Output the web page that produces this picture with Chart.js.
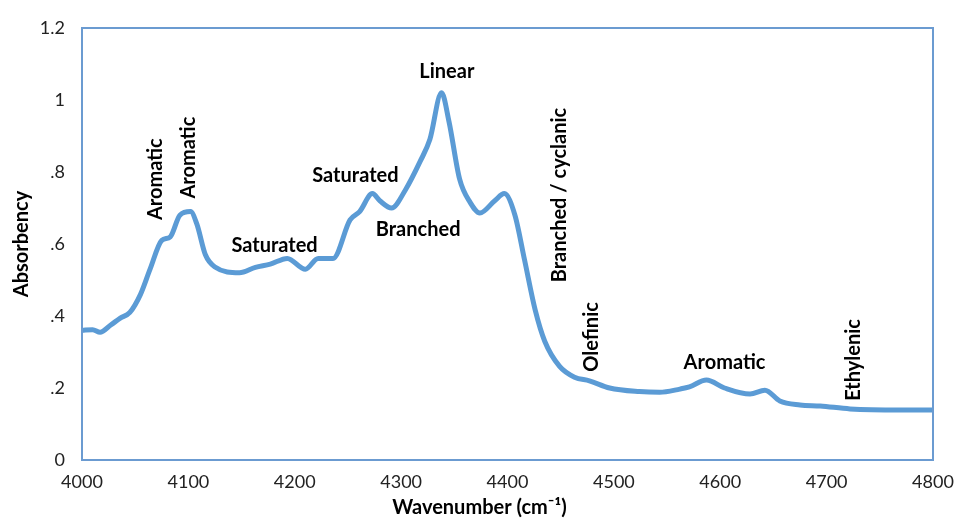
<!DOCTYPE html>
<html>
<head>
<meta charset="utf-8">
<script src="https://cdn.jsdelivr.net/npm/chart.js@4/dist/chart.umd.min.js"></script>
<style>
  html, body { margin: 0; padding: 0; background: #fff; }
</style>
</head>
<body>
<canvas id="myChart" width="964" height="521"></canvas>
<script>
// spectrum
const wavenumbers = [4000, 4010, 4017, 4027, 4036, 4045, 4055, 4064, 4075, 4083, 4092, 4102, 4108, 4116, 4125,
  4148, 4163, 4177, 4193, 4210, 4222, 4236, 4252, 4261, 4273, 4280, 4291, 4304, 4318, 4327, 4338,
  4345, 4355, 4365, 4374, 4388, 4397, 4407, 4416, 4426, 4435, 4449, 4463, 4477, 4496, 4524, 4543,
  4562, 4571, 4587, 4604, 4628, 4642, 4656, 4675, 4694, 4722, 4769, 4800];
const absorbency = [0.36, 0.362, 0.355, 0.375, 0.394, 0.41, 0.46, 0.53, 0.61, 0.62, 0.68, 0.69, 0.655, 0.57, 0.536,
  0.52, 0.535, 0.544, 0.56, 0.53, 0.56, 0.56, 0.667, 0.69, 0.74, 0.72, 0.70, 0.75, 0.83, 0.89, 1.02,
  0.94, 0.78, 0.715, 0.686, 0.72, 0.74, 0.68, 0.556, 0.417, 0.33, 0.26, 0.23, 0.22, 0.2, 0.19, 0.188,
  0.197, 0.203, 0.222, 0.2, 0.183, 0.194, 0.164, 0.153, 0.15, 0.142, 0.139, 0.139];

const xTicks = [4000, 4100, 4200, 4300, 4400, 4500, 4600, 4700, 4800];

// band labels: text, wavenumber, absorbency, rotated?
const bandText = ['Aromatic', 'Aromatic', 'Saturated', 'Saturated', 'Branched', 'Linear',
  'Branched / cyclanic', 'Olefinic', 'Aromatic', 'Ethylenic'];
const bandX = [4069, 4100, 4181, 4257, 4316, 4343, 4449, 4479, 4604, 4725];
const bandY = [0.78, 0.84, 0.597, 0.79, 0.64, 1.08, 0.736, 0.342, 0.272, 0.278];
const bandVertical = [true, true, false, false, false, false, true, true, false, true];

const points = wavenumbers.map((w, i) => ({ x: w, y: absorbency[i] }));

const FONT = 'Lato, "Open Sans", sans-serif';

const boxPlugin = {
  id: 'box',
  afterDraw(chart) {
    const ctx = chart.ctx, a = chart.chartArea;
    ctx.save();
    ctx.strokeStyle = '#6b9bd1';
    ctx.lineWidth = 2;
    ctx.strokeRect(a.left, a.top, a.right - a.left, a.bottom - a.top);
    // x axis title, sits a little left of centre like the original
    ctx.font = 'bold 20px ' + FONT;
    ctx.fillStyle = '#000';
    ctx.textAlign = 'center';
    ctx.textBaseline = 'middle';
    ctx.fillText('Wavenumber (cm⁻¹)', a.left + (a.right - a.left) * 0.467, 508);
    ctx.restore();
  }
};

const labelPlugin = {
  id: 'bandLabels',
  afterDatasetsDraw(chart) {
    const ctx = chart.ctx;
    const xs = chart.scales.x, ys = chart.scales.y;
    ctx.save();
    ctx.font = 'bold 20px ' + FONT;
    ctx.fillStyle = '#000';
    ctx.textAlign = 'center';
    ctx.textBaseline = 'middle';
    bandText.forEach((t, i) => {
      const px = xs.getPixelForValue(bandX[i]);
      const py = ys.getPixelForValue(bandY[i]);
      ctx.save();
      ctx.translate(px, py);
      if (bandVertical[i]) ctx.rotate(-Math.PI / 2);
      ctx.fillText(t, 0, 0);
      ctx.restore();
    });
    ctx.restore();
  }
};

const myChart = document.getElementById('myChart').getContext('2d');

new Chart(myChart, {
  type: 'line',
  data: {
    datasets: [{
      data: points,
      borderColor: '#5b9bd5',
      borderWidth: 5,
      pointRadius: 0,
      tension: 0.4,
      cubicInterpolationMode: 'monotone',
      fill: false
    }]
  },
  options: {
    responsive: false,
    animation: false,
    layout: { padding: { top: 28, right: 31, left: 0, bottom: 0 } },
    plugins: { legend: { display: false }, tooltip: { enabled: false } },
    scales: {
      x: {
        type: 'linear',
        min: 4000, max: 4800,
        afterBuildTicks: s => { s.ticks = xTicks.map(v => ({ value: v })); },
        grid: { display: false },
        border: { display: false },
        ticks: {
          color: '#222', padding: 3, maxRotation: 0,
          font: { family: FONT, size: 18 },
          callback: v => String(v)
        },
        afterFit: s => { s.height = 61; }
      },
      y: {
        min: 0, max: 1.2,
        grid: { display: false },
        border: { display: false },
        ticks: {
          stepSize: 0.2, color: '#222', padding: 9,
          font: { family: FONT, size: 18 },
          callback: v => {
            const r = Math.round(v * 10) / 10;
            return String(r).replace(/^0\./, '.');
          }
        },
        title: {
          display: true, text: 'Absorbency', color: '#000',
          font: { family: FONT, size: 20, weight: 'bold' }, padding: { top: 10 }
        },
        afterFit: s => { s.width = 82; }
      }
    }
  },
  plugins: [boxPlugin, labelPlugin]
});
</script>
</body>
</html>
